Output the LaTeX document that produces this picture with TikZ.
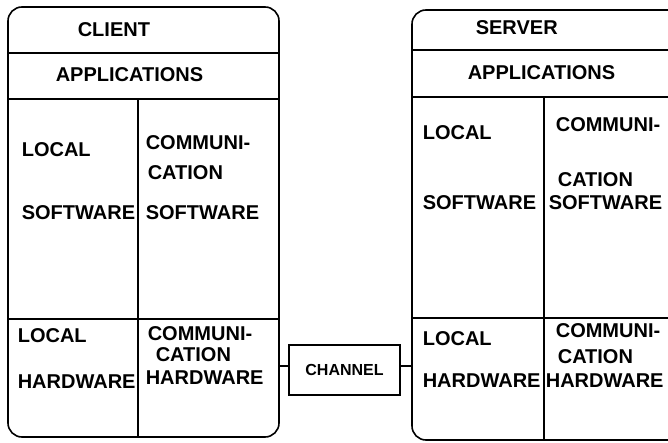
\documentclass[tikz,border=0pt]{standalone}
\usepackage{fontspec}
\setmainfont{Liberation Sans}
\usetikzlibrary{positioning}

\tikzset{
  station/.style={draw, rounded corners=14pt, minimum width=271pt, minimum height=430pt, anchor=north west, outer sep=0pt},
  lbl/.style={anchor=base west, inner sep=0pt}
}

\begin{document}
\begin{tikzpicture}[x=1pt, y=-1pt, line width=1.6pt, font=\bfseries\fontsize{20}{24}\selectfont]

  \useasboundingbox (0,0) rectangle (668,443);
  \clip (0,0) rectangle (668,443);

  \def\myoffset{4pt}

  % client side
  \node (client) [station] at (8,7) {};
  \draw (8,53) -- (279,53);
  \draw (8,99) -- (279,99);
  \draw (138,99) -- (138,437);
  \draw (8,319) -- (279,319);

  \node (cltitle) [lbl] at (77,37) {CLIENT};
  \node (clapps) [lbl] at (55,82) {APPLICATIONS};
  \node (cllocsw) [lbl] at (21,157) {LOCAL};
  \node (clsw) [lbl] at (21,220) {SOFTWARE};
  \node (clcomsw) [lbl] at (145,150) {COMMUNI-};
  \node (clcatsw) [lbl] at (147,180) {CATION};
  \node (clcsw) [lbl] at (145,220) {SOFTWARE};
  \node (cllochw) [lbl] at (17,342) {LOCAL};
  \node (clhw) [lbl] at (17,388) {HARDWARE};
  \node (clcomhw) [lbl] at (147,340) {COMMUNI-};
  \node (clcathw) [lbl] at (155,361) {CATION};
  \node (clchw) [lbl] at (145,384) {HARDWARE};

  % server side
  \node (server) [station] at (412,10) {};
  \draw (412,50) -- (683,50);
  \draw (412,97) -- (683,97);
  \draw (544,97) -- (544,440);
  \draw (412,318) -- (683,318);

  \node (svtitle) [lbl] at (475,35) {SERVER};
  \node (svapps) [lbl] at (467,80) {APPLICATIONS};
  \node (svlocsw) [lbl] at (422,140) {LOCAL};
  \node (svsw) [lbl] at (422,210) {SOFTWARE};
  \node (svcomsw) [lbl] at (555,132) {COMMUNI-};
  \node (svcatsw) [lbl] at (557,187) {CATION};
  \node (svcsw) [lbl] at (548,210) {SOFTWARE};
  \node (svlochw) [lbl] at (422,345) {LOCAL};
  \node (svhw) [lbl] at (422,387) {HARDWARE};
  \node (svcomhw) [lbl] at (555,337) {COMMUNI-};
  \node (svcathw) [lbl] at (557,363) {CATION};
  \node (svchw) [lbl] at (545,387) {HARDWARE};

  % channel between them
  \node (channel) [draw, minimum width=111pt, minimum height=50pt, font=\bfseries\fontsize{16}{18}\selectfont] at (344.5,370) {CHANNEL};
  \draw ([yshift=\myoffset]channel.west) -- ([yshift=\myoffset]channel.west -| client.east);
  \draw ([yshift=\myoffset]channel.east) -- ([yshift=\myoffset]channel.east -| server.west);

\end{tikzpicture}
\end{document}
